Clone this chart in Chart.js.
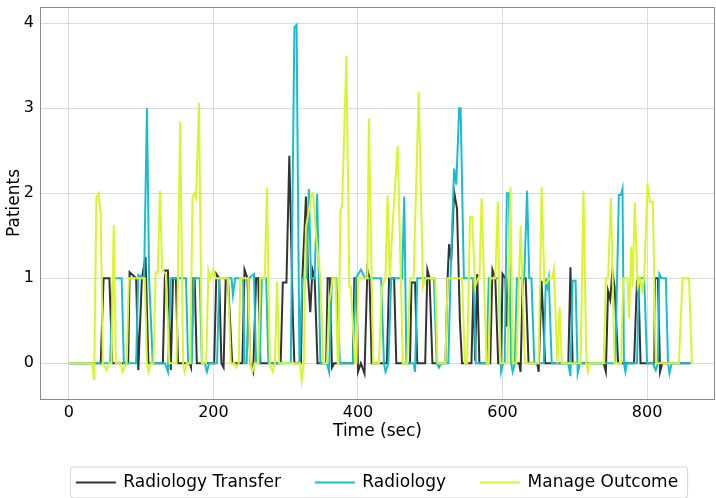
<!DOCTYPE html>
<html lang="en">
<head>
  <meta charset="UTF-8">
  <title>Patients over time</title>
  <style>
    body { margin: 0; background: #fff; }
    .wrap { width: 716px; height: 498px; }
  </style>
</head>
<body>
  <div class="wrap">
    <canvas id="chart" width="716" height="498"></canvas>
  </div>

  <script src="https://cdn.jsdelivr.net/npm/chart.js"></script>
  <script>
    // values (time in sec, patients)
    var transferT = [0, 44, 48, 56, 60, 82, 84, 93, 96, 101, 106, 110, 130, 133, 137, 141, 144, 148, 151, 167, 169, 171, 174, 177,
      201, 204, 208, 211, 214, 217, 220, 226, 240, 243, 247, 251, 255, 259, 262, 265, 293, 296, 301, 305, 310, 312,
      321, 323, 328, 331, 334, 337, 340, 344, 356, 358, 361, 364, 367, 393, 395, 398, 400, 404, 409, 413, 416, 419,
      440, 443, 450, 453, 472, 474, 479, 482, 493, 496, 499, 503, 521, 524, 526, 529, 533, 537, 541, 544,
      557, 560, 562, 565, 568, 583, 586, 590, 594, 598, 600, 604, 606, 609, 613, 623, 625, 628, 632, 636,
      648, 650, 654, 659, 691, 694, 697, 740, 743, 746, 749, 752, 755, 760, 782, 786, 788, 791, 810, 811, 815, 818, 821, 860];
    var transferV = [0, 0, 1, 1, 0, 0, 1.07, 1, -0.08, 1, 1.25, 0, 0, 1.09, 1.09, -0.08, 1, 1, 0, 0, -0.05, 1, 1, 0,
      0, 1.05, 1, 0, -0.05, 1, 1, 0, 0, 1.1, 1, 0, -0.1, 1, 1, 0, 0, 0.95, 0.95, 2.44, 0.5, 0,
      0, 1, 1.96, 1, 0.6, 1.1, 1, 0, 0, 1, 1, -0.05, 0, 0, 1, 1, -0.1, 0, -0.12, 1.1, 1, 0,
      0, 1, 1, 0, 0, 0.95, 0.95, 0, 0, 1.1, 1, 0, 0, 1, 1.4, 1.2, 2.02, 1.82, 0.5, 0,
      0, 1, 0.03, 1.05, 0, 0, 1.1, 1, 0, 0, 1.05, 1, 0.43, 1.1, 0, 0, -0.1, 1, 1, 0,
      0, -0.1, 0.97, 0, 0, 1.13, 0, 0, -0.1, 0.85, 0.75, 1.08, 0.9, 0, 0, 0.97, 0.97, 0, 0, 1, 1, -0.1, 0, 0];

    var radiologyT = [0, 57, 61, 73, 76, 93, 96, 104, 108, 111, 116, 133, 137, 141, 162, 165, 170, 173, 181, 184, 188, 191, 194,
      205, 208, 225, 227, 230, 241, 243, 246, 249, 256, 259, 264, 267, 273, 276, 307, 312, 315, 319, 323, 329, 332, 335, 340, 343.5, 348,
      357, 360, 364, 370, 375, 393, 397, 404, 410, 432, 436, 438, 442, 446, 461, 464, 467, 477, 479, 482, 505, 509, 512, 515,
      525, 528, 533, 536, 540, 542, 546.5, 560, 563, 578, 581, 595, 598, 601, 603, 606, 609, 612, 614, 617, 620, 630, 634, 637, 640, 644,
      657, 660, 662, 664, 668, 691, 694, 697, 701, 704, 707, 756, 761, 764, 766, 768, 770, 772, 786, 789, 796, 800,
      808, 812, 815, 817, 820, 826, 829, 831, 834, 860];
    var radiologyV = [0, 0, 1, 1, 0, 0, 1.04, 1, 3.0, 1, 0, 0, -0.1, 1, 1, 0, 0, 1, 1, 0, 0, -0.1, 0,
      0, 1, 1, 0.8, 1, 1, 0, 0, 1, 1.05, 0, 0, 1, 1, 0, 0, 3.95, 3.98, 0, 1, 1, 2.05, 1, 1, 1.99, 0,
      0, -0.1, 1, 1, 0, 0, 1, 1.1, 1, 1, 0, -0.1, 0, 1, 1, 1.96, 0, 0, -0.1, 1, 1, 0, -0.05, 0,
      0, 1, 2.29, 2.1, 3.0, 3.0, 1, 1, 0, 0, 1, 1, -0.1, 0, 0, 2.0, 2.0, 0, -0.1, 0, 1, 1, 2.03, 1, 1, 0,
      0, 1, 0.9, 1, 0, 0, -0.15, 0.97, 0.97, -0.12, 0, 0, 1.98, 1.98, 2.05, 0, -0.1, 0, 0, 1, 1, 0,
      0, -0.08, 0, 1.05, 1, 1, 0, -0.12, 0, 0];

    var outcomeT = [0, 32, 35, 38, 41, 44, 47, 52, 56, 59, 62, 65, 72, 74, 80, 83, 105, 108, 110, 113, 117, 120, 123, 126, 129, 134, 139,
      149, 154, 158, 160, 163, 168, 171, 174, 176, 180, 184, 190, 193, 196, 200, 203, 220, 224, 229, 231, 235, 237, 248, 251, 254, 257,
      262, 265, 271, 274, 278, 282, 285, 288, 291, 320, 322, 325, 328, 336, 338, 342, 348, 352, 357, 360, 365, 369, 372,
      373, 375.6, 378, 384, 388, 390, 396, 398, 400, 413, 415, 421, 429, 433, 438, 441, 444, 449, 455, 462,
      468, 472, 477, 484, 490, 494, 500, 507, 510, 521, 524, 544, 548, 551, 555, 558, 562, 566, 568, 571, 578,
      581, 583, 590, 593.5, 597, 607, 611, 614, 619, 625, 631, 650, 654, 658, 661, 664, 669, 671, 676, 679, 682,
      708, 712, 716, 718, 720, 740, 743, 746, 750, 755, 764, 767, 773, 775, 778, 780, 783, 787, 790, 793, 796, 800.6, 804, 808, 812, 818,
      844, 849, 858, 862];
    var outcomeV = [0, 0, -0.2, 1.95, 2.0, 1.75, 0, -0.08, 0, 0, 1.62, 0, 0, -0.1, 0, 1, 1, 0, -0.1, 0, 0, 1.07, 1.07, 2.03, 1.1, 1.05, 0,
      0, 2.84, 0, -0.1, 0, 0, 1.95, 2.0, 1.95, 3.06, 0, 0, 1.09, 1, 1.1, 1, 1, 0, 0, -0.05, 0, 1, 1, 0, -0.1, 0,
      0, 1, 1, 2.06, 0, -0.1, 0, 0.96, 0, 0, -0.2, 0, 1.6, 2.0, 2.0, 1.5, 1.0, 0, 0, 0.7, 1, 1, 0,
      0, 1.8, 1.85, 3.62, 0.9, 0.9, 0, 0, 1, 1, 2.88, 0, 0, 0.9, 1, 1.98, 1, 1.78, 2.56, 0,
      0, 1, 1, 3.19, 0.9, 1, 1, 1, 0, 0, 1, 1, 0, 0, 1.72, 1.72, 0.9, 1, 1, 1.94, 0,
      0, 1, 1, 1.9, 0, 0, 2.07, 0, 0, 1.62, 0, 0, 2.07, 0.94, 0.94, 1, 1, 1.1, 0, 0.66, 0,
      0, 2.03, 0, -0.1, 0, 0, 1, 1, 1.94, 0, 0, 1, 1, 0.53, 1.37, 0.9, 1.89, 0.9, 1, 0.85, 1, 2.11, 1.9, 1.9, 0, 0,
      0, 1, 1, 0];

    var xTicks = [0, 200, 400, 600, 800];
    var yTicks = [0, 1, 2, 3, 4];

    function toPoints(ts, vs) {
      return ts.map(function(t, i) { return { x: t, y: vs[i] }; });
    }

    var fontFamily = "'DejaVu Sans', sans-serif";
    Chart.defaults.font.family = fontFamily;
    Chart.defaults.color = '#000';

    // matplotlib style frame around the plot + legend box
    var framePlugin = {
      id: 'frame',
      afterDraw: function(chart) {
        var ctx = chart.ctx;
        var a = chart.chartArea;
        ctx.save();
        ctx.strokeStyle = '#8c8c8c';
        ctx.lineWidth = 1;
        ctx.strokeRect(Math.round(a.left) + 0.5, Math.round(a.top) + 0.5,
          Math.round(a.right - a.left) - 1, Math.round(a.bottom - a.top));

        var boxes = chart.legend.legendHitBoxes;
        if (boxes && boxes.length) {
          var first = boxes[0], last = boxes[boxes.length - 1];
          var cy = first.top + first.height / 2;
          var l = first.left - 7, r = last.left + last.width + 9;
          var t = cy - 16, b = cy + 15;
          ctx.strokeStyle = '#d4d4d4';
          ctx.beginPath();
          ctx.roundRect(l + 0.5, t + 0.5, r - l, b - t, 3);
          ctx.stroke();
        }
        ctx.restore();
      }
    };

    var chart = new Chart(document.getElementById('chart'), {
      type: 'line',
      data: {
        datasets: [{
          label: 'Radiology Transfer',
          data: toPoints(transferT, transferV),
          borderColor: '#333333',
          backgroundColor: '#333333',
          order: 3
        }, {
          label: 'Radiology',
          data: toPoints(radiologyT, radiologyV),
          borderColor: '#17becf',
          backgroundColor: '#17becf',
          order: 2
        }, {
          label: 'Manage Outcome',
          data: toPoints(outcomeT, outcomeV),
          borderColor: '#d8f52e',
          backgroundColor: '#d8f52e',
          order: 1
        }]
      },
      options: {
        responsive: false,
        animation: false,
        parsing: false,
        layout: { padding: { top: 7, right: 1, left: 0, bottom: -3 } },
        elements: {
          line: { borderWidth: 2, tension: 0 },
          point: { radius: 0 }
        },
        scales: {
          x: {
            type: 'linear',
            min: -40,
            max: 894,
            afterBuildTicks: function(scale) {
              scale.ticks = xTicks.map(function(v) { return { value: v }; });
            },
            afterFit: function(scale) {
              scale.height = 40;
              scale.paddingLeft = 0;
              scale.paddingRight = 0;
            },
            grid: { color: '#dcdcdc', drawTicks: false },
            border: { display: false },
            ticks: { font: { size: 16 }, padding: 4, maxRotation: 0 },
            title: { display: true, text: 'Time (sec)', font: { size: 17 }, padding: { top: 0, bottom: -3 } }
          },
          y: {
            min: -0.42,
            max: 4.19,
            afterBuildTicks: function(scale) {
              scale.ticks = yTicks.map(function(v) { return { value: v }; });
            },
            afterFit: function(scale) {
              scale.width = 40;
              scale.paddingTop = 0;
              scale.paddingBottom = 0;
            },
            grid: { color: '#dcdcdc', drawTicks: false },
            border: { display: false },
            ticks: { font: { size: 16 }, padding: 6 },
            title: { display: true, text: 'Patients', font: { size: 17 }, padding: { top: 4, bottom: 0 } }
          }
        },
        plugins: {
          tooltip: { enabled: false },
          legend: {
            position: 'bottom',
            fullSize: false,
            labels: {
              boxWidth: 38,
              boxHeight: 0.001,
              padding: 35,
              font: { size: 17 },
              color: '#000',
              sort: function(a, b) { return a.datasetIndex - b.datasetIndex; }
            }
          }
        }
      },
      plugins: [framePlugin]
    });
  </script>
</body>
</html>
